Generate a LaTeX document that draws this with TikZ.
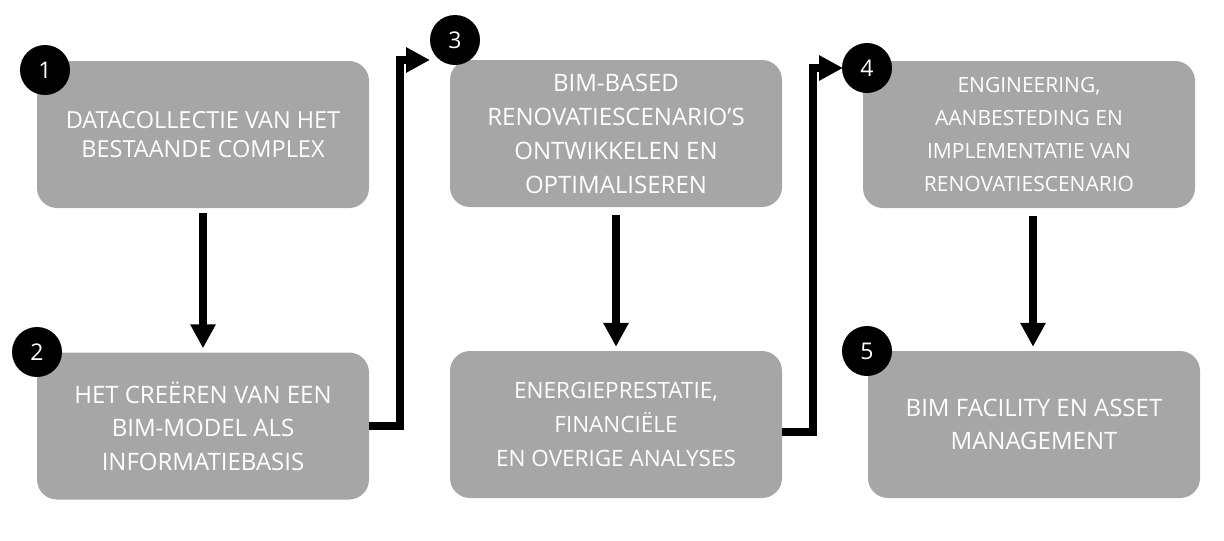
\documentclass[tikz,border=0pt]{standalone}
\usepackage{fontspec}
\setmainfont{Open Sans}
\usetikzlibrary{arrows.meta}
\definecolor{boxgray}{RGB}{166,166,166}
\begin{document}
\begin{tikzpicture}[x=1pt,y=-1pt,
  stepbox/.style={rectangle, rounded corners=20pt, fill=boxgray, text=white,
    minimum width=332pt, minimum height=147pt, inner sep=0pt, align=center},
  numdot/.style={circle, fill=black, text=white, minimum size=50pt, inner sep=0pt,
    font=\fontsize{23}{26}\selectfont},
  arr/.style={line width=8pt, -{Triangle[length=24pt 0,width=24pt 0]}, line join=miter}
]
\useasboundingbox (0,0) rectangle (1224,541);
\node[stepbox, font=\fontsize{23.5}{29.5}\selectfont] (b1) at (203,134.5)
  {DATACOLLECTIE VAN HET\\BESTAANDE COMPLEX};
\node[stepbox, font=\fontsize{24}{33.5}\selectfont] (b2) at (203,426)
  {HET CREËREN VAN EEN\\BIM-MODEL ALS\\INFORMATIEBASIS};
\node[stepbox, font=\fontsize{24}{34}\selectfont] (b3) at (616,133.5)
  {BIM-BASED\\RENOVATIESCENARIO’S\\ONTWIKKELEN EN\\OPTIMALISEREN};
\node[stepbox, font=\fontsize{21}{33}\selectfont] (b4) at (1029,134.5)
  {ENGINEERING,\\AANBESTEDING EN\\IMPLEMENTATIE VAN\\RENOVATIESCENARIO};
\node[stepbox, font=\fontsize{22.5}{34}\selectfont] (b6) at (616,424.5)
  {ENERGIEPRESTATIE,\\FINANCIËLE\\EN OVERIGE ANALYSES};
\node[stepbox, font=\fontsize{24}{33}\selectfont] (b5) at (1034,424.5)
  {BIM FACILITY EN ASSET\\MANAGEMENT};

\node[numdot] (c1) at (45,70) {1};
\node[numdot] (c2) at (37,352) {2};
\node[numdot] (c3) at (455,40) {3};
\node[numdot] (c4) at (867,68) {4};
\node[numdot] (c5) at (867,351) {5};

\draw[arr] ([yshift=-5pt]b1.south) -- ([yshift=4pt]b2.north);
\draw[arr] ([yshift=-8pt]b3.south) -- ([yshift=4pt]b6.north);
\draw[arr] ([xshift=4pt,yshift=-8pt]b4.south) -- ([xshift=-1pt,yshift=4pt]b5.north);

\coordinate (k23) at (400,60);
\coordinate (t3) at (430,60);
\draw[arr] (b2.east) -| (k23) -- (t3);

\coordinate (s46) at (782,432);
\coordinate (k46) at (813,68);
\coordinate (t4) at (843,68);
\draw[arr] (s46) -| (k46) -- (t4);
\end{tikzpicture}
\end{document}
